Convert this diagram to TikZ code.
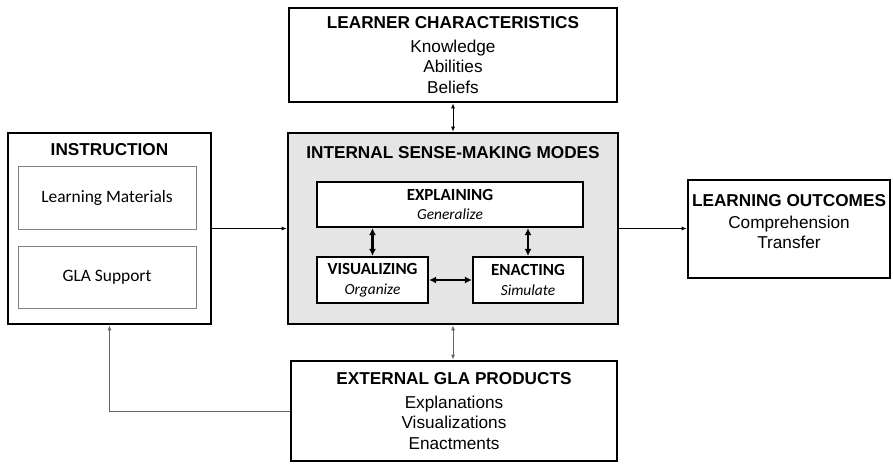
\documentclass[tikz,border=0pt]{standalone}
\usepackage{fontspec}
\setmainfont{Liberation Sans}
\newfontfamily\calfont{Carlito}
\usetikzlibrary{arrows.meta}

\newcommand{\modetext}[2]{\textbf{#1}\\ {\fontsize{15.4}{20}\selectfont\itshape #2}}

\tikzset{
  bigbox/.style={draw, line width=2.6pt, align=center, inner sep=0pt, font=\fontsize{17.2}{20.4}\selectfont},
  modebox/.style={draw, fill=white, line width=2.2pt, align=center, inner sep=0pt, font=\calfont\fontsize{17}{19.5}\selectfont},
  subbox/.style={draw=gray, line width=1pt, inner sep=0pt, font=\calfont\fontsize{17.4}{20}\selectfont},
  link/.style={line width=1pt, -{Latex[length=5pt,width=4pt]}},
  twolink/.style={line width=1pt, {Latex[length=5pt,width=4pt]}-{Latex[length=5pt,width=4pt]}},
  modelink/.style={line width=2.4pt, {Latex[length=7pt,width=7pt]}-{Latex[length=7pt,width=7pt]}}
}

\begin{document}
\begin{tikzpicture}[x=1pt,y=-1pt]
    \useasboundingbox (0,0) rectangle (893,463);

    % outer boxes
    \node[bigbox, minimum width=328pt, minimum height=94pt] (learner) at (453,55)
        {\textbf{LEARNER CHARACTERISTICS}\\[3pt] Knowledge\\ Abilities\\ Beliefs};
    \node[bigbox, fill=gray!20, minimum width=330pt, minimum height=191pt] (modes) at (453,228.5) {};
    \node[bigbox, minimum width=203pt, minimum height=191pt] (instr) at (109.5,228.5) {};
    \node[bigbox, minimum width=202pt, minimum height=98pt] (outcomes) at (789,229) {};
    \node[bigbox, minimum width=326pt, minimum height=100pt] (external) at (454,411)
        {\textbf{EXTERNAL GLA PRODUCTS}\\[3pt] Explanations\\ Visualizations\\ Enactments};

    % titles and texts
    \node[font=\bfseries\fontsize{17.2}{20}\selectfont] (modestitle) at (453,153) {INTERNAL SENSE-MAKING MODES};
    \node[font=\bfseries\fontsize{17.2}{20}\selectfont] (instrtitle) at (109.5,150) {INSTRUCTION};
    \node[align=center, font=\fontsize{17.2}{20.4}\selectfont] (outtext) at (789,221.5)
        {\textbf{LEARNING OUTCOMES}\\[2pt] Comprehension\\ Transfer};

    % instruction parts
    \node[subbox, minimum width=178pt, minimum height=63pt] (materials) at (107,197.5) {Learning Materials};
    \node[subbox, minimum width=178pt, minimum height=62pt] (support) at (107,277) {GLA Support};

    % sense-making modes
    \node[modebox, minimum width=266pt, minimum height=45pt] (explain) at (450,204.5) {\modetext{EXPLAINING}{Generalize}};
    \node[modebox, minimum width=111pt, minimum height=46pt] (visual) at (372.5,280) {\modetext{VISUALIZING}{Organize}};
    \node[modebox, minimum width=110pt, minimum height=46pt] (enact) at (528,280) {\modetext{ENACTING}{Simulate}};

    \draw[modelink] (explain.south -| visual.north) -- (visual.north);
    \draw[modelink] (explain.south -| enact.north) -- (enact.north);
    \draw[modelink] (visual.east) -- (enact.west);

    % connectors
    \draw[link] (instr.east) -- (modes.west);
    \draw[link] (modes.east) -- (modes.east -| outcomes.west);
    \draw[twolink] (learner.south) -- (modes.north);
    \draw[twolink, gray!80!black] (modes.south) -- (modes.south |- external.north);
    \draw[link, gray!80!black] (external.west) -| (instr.south);

\end{tikzpicture}
\end{document}
